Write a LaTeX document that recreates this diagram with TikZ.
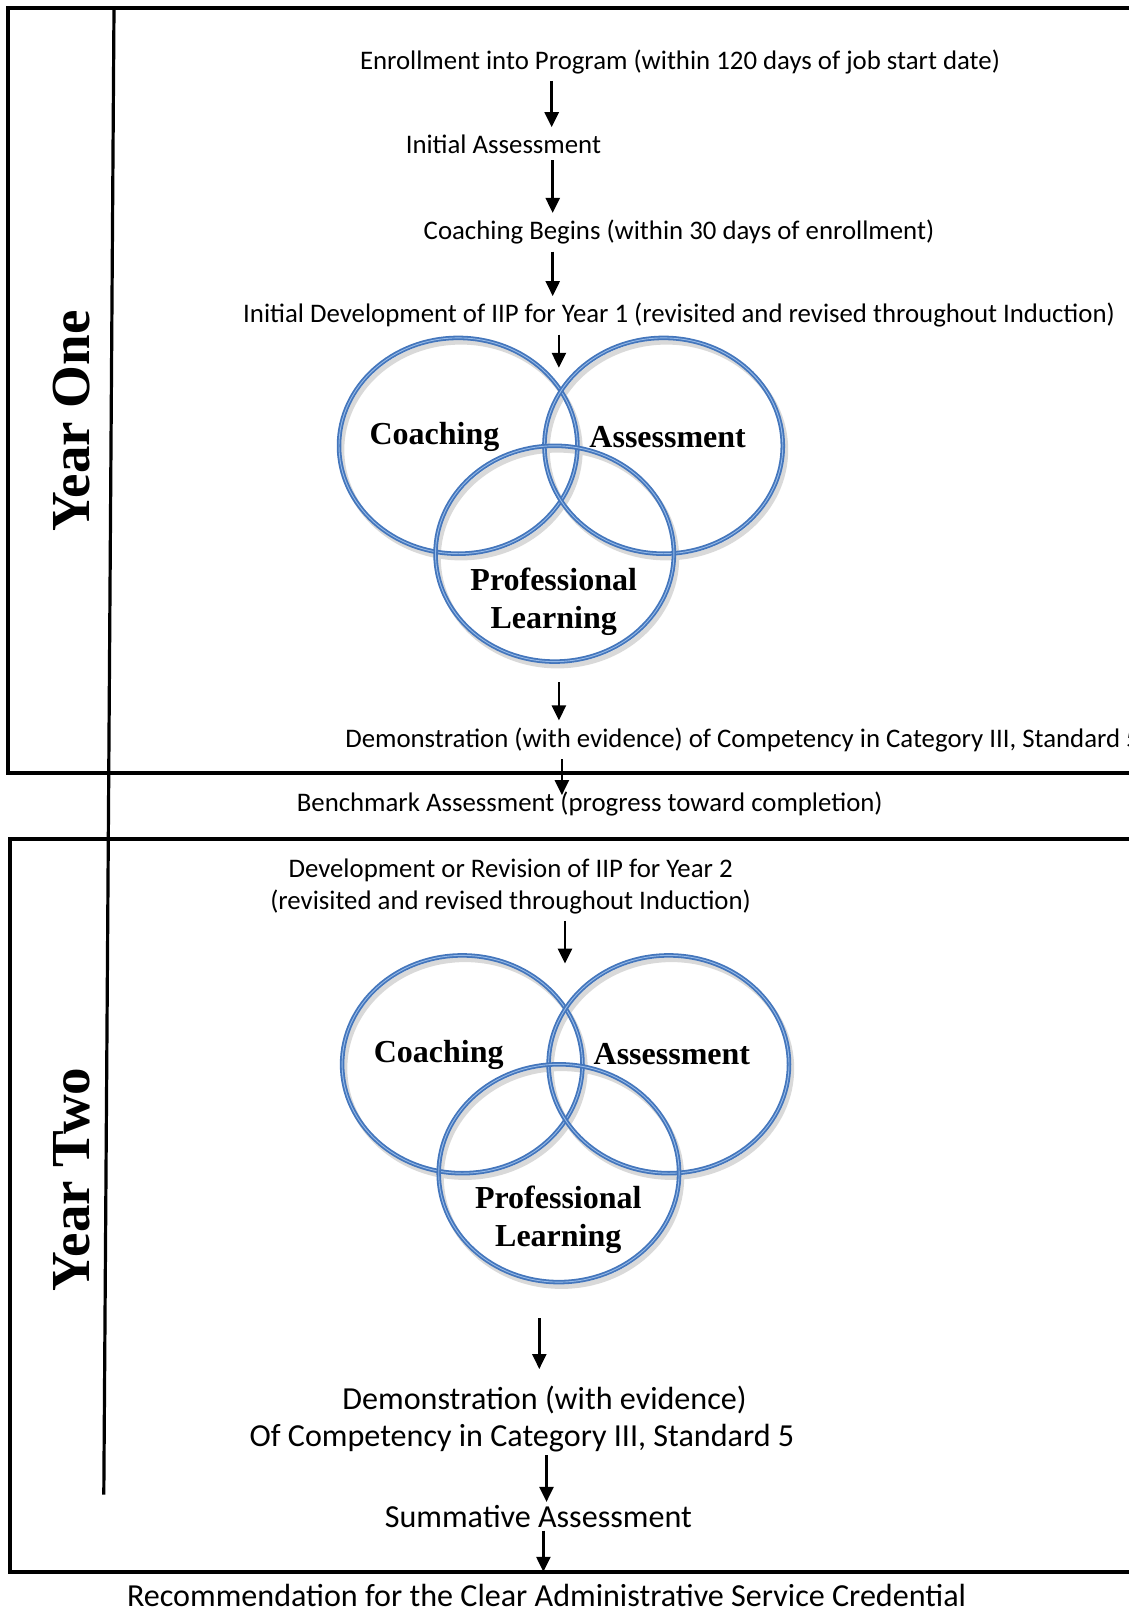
\documentclass[tikz,border=0pt]{standalone}
\usepackage{fontspec}
\setmainfont{Carlito}
\newfontfamily\timesbold{Liberation Serif}
\usetikzlibrary{arrows.meta}
\definecolor{vennblue}{RGB}{68,118,188}
\definecolor{vennlight}{RGB}{150,186,232}
\begin{document}
\begin{tikzpicture}[x=1pt,y=-1pt]
\tikzset{txt/.style={inner xsep=2pt, inner ysep=7pt, font=\fontsize{26.8}{32}\selectfont, align=center},
big/.style={inner xsep=2pt, inner ysep=3pt, font=\fontsize{32.1}{38}\selectfont},
lbl/.style={inner sep=0pt, font=\timesbold\bfseries\fontsize{32}{38}\selectfont, align=center},
yr/.style={inner sep=0pt, font=\timesbold\bfseries\fontsize{55}{60}\selectfont, rotate=90},
arr/.style={line width=2.5pt, -{Triangle[length=15pt,width=14pt]}},
venn/.style={draw=vennblue, line width=1.8pt, double=vennlight, double distance=0.9pt},
shade/.style={draw=black!15, line width=5pt}}
\useasboundingbox (0,0) rectangle (1129,1611);
\draw[line width=4pt] (8.2,8.2) rectangle (1145,772.5);
\draw[line width=4pt] (10.3,839.3) rectangle (1145,1571.8);
\draw[line width=3.2pt] (114,8.2) -- (103.8,1494.7);
\node[yr] (yone) at (71.9,421.2) {Year One};
\node[yr] (ytwo) at (71.9,1179.3) {Year Two};
\node[txt] (enroll) at (680,61.6) {Enrollment into Program (within 120 days of job start date)};
\node[txt] (initass) at (503.4,143.8) {Initial Assessment};
\node[txt] (coachbeg) at (679,232.2) {Coaching Begins (within 30 days of enrollment)};
\node[txt] (iip1) at (679,315.4) {Initial Development of IIP for Year 1 (revisited and revised throughout Induction)};
\coordinate (v1top) at (558.9,367.8);
\draw[shade] (461,450) ellipse (119.2 and 107.9);
\draw[shade] (666.5,450) ellipse (119.2 and 107.9);
\draw[shade] (557.5,558) ellipse (119.2 and 107.9);
\draw[venn] (458.2,445.8) ellipse (119.2 and 107.9);
\draw[venn] (663.6,445.8) ellipse (119.2 and 107.9);
\draw[venn] (554.7,553.7) ellipse (119.2 and 107.9);
\node[lbl] (coach1) at (434.5,436.6) {Coaching};
\node[lbl] (assess1) at (667.7,436.6) {Assessment};
\node[lbl] (pl1) at (553.7,601.5) {Professional\\Learning};
\coordinate (v1bot) at (558.9,682.1);
\node[txt, anchor=west] (demo1) at (343.1,739.7) {Demonstration (with evidence) of Competency in Category III, Standard 5};
\node[txt] (bench) at (589.7,804.4) {Benchmark Assessment (progress toward completion)};
\node[txt] (iip2) at (510.6,886) {Development or Revision of IIP for Year 2\\(revisited and revised throughout Induction)};
\coordinate (v2top) at (565,963.6);
\draw[shade] (465,1068.5) ellipse (120.2 and 108.9);
\draw[shade] (671.5,1068.5) ellipse (120.2 and 108.9);
\draw[shade] (561.5,1177.5) ellipse (120.2 and 108.9);
\draw[venn] (462.3,1064.3) ellipse (120.2 and 108.9);
\draw[venn] (668.8,1064.3) ellipse (120.2 and 108.9);
\draw[venn] (558.9,1173.2) ellipse (120.2 and 108.9);
\node[lbl] (coach2) at (438.7,1055) {Coaching};
\node[lbl] (assess2) at (671.9,1054) {Assessment};
\node[lbl] (pl2) at (558.3,1219.9) {Professional\\Learning};
\coordinate (v2bot) at (539.3,1318);
\node[big] (demo2a) at (544.5,1400.2) {Demonstration (with evidence)};
\node[big] (demo2b) at (521.9,1438.2) {Of Competency in Category III, Standard 5};
\node[big] (summ) at (538.3,1516.3) {Summative Assessment};
\coordinate (boxbot) at (543.4,1571.8);
\node[big] (recom) at (546.5,1595.4) {Recommendation for the Clear Administrative Service Credential};
\draw[arr] (enroll.south -| 551.7,0) -- (initass.north -| 551.7,0);
\draw[arr] (initass.south -| 552.7,0) -- (coachbeg.north -| 552.7,0);
\draw[arr] (coachbeg.south -| 552.7,0) -- (iip1.north -| 552.7,0);
\draw[arr] (iip1.south -| v1top) -- (v1top);
\draw[arr] (v1bot) -- (demo1.north -| v1bot);
\draw[arr, shorten >=-10pt] (demo1.south -| 561.9,0) -- (bench.north -| 561.9,0);
\draw[arr] (iip2.south -| v2top) -- (v2top);
\draw[arr, shorten >=14pt] (v2bot) -- (demo2a.north -| v2bot);
\draw[arr] (demo2b.south -| 546.5,0) -- (summ.north -| 546.5,0);
\draw[arr] (summ.south -| boxbot) -- (boxbot);
\end{tikzpicture}
\end{document}
